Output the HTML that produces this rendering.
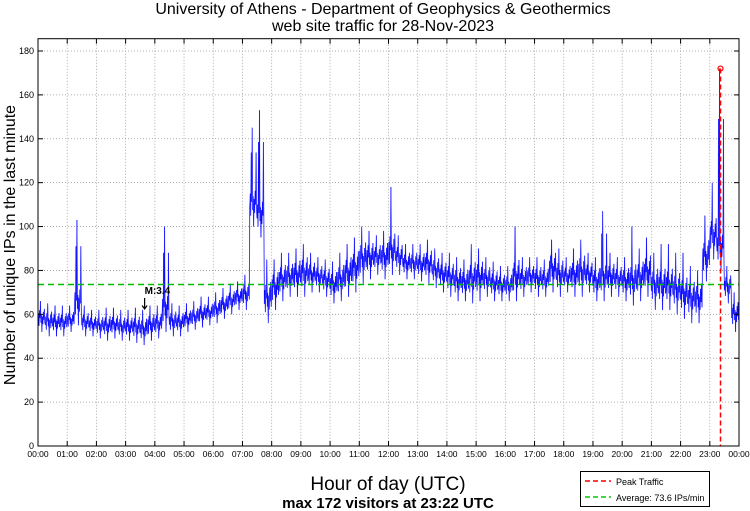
<!DOCTYPE html>
<html><head><meta charset="utf-8"><style>
body{margin:0;background:#fff;font-family:"Liberation Sans",sans-serif}
svg{display:block}
</style></head><body>
<svg id="chart" width="750" height="511" xmlns="http://www.w3.org/2000/svg" font-family="Liberation Sans, sans-serif">
<text x="383" y="14" font-size="16" text-anchor="middle">University of Athens - Department of Geophysics &amp; Geothermics</text>
<text x="383" y="31" font-size="16" text-anchor="middle">web site traffic for 28-Nov-2023</text>
<g id="grid"></g>
<g id="series"></g>
<g id="axes"></g>
<text transform="translate(15,245) rotate(-90)" font-size="16" text-anchor="middle">Number of unique IPs in the last minute</text>
<text x="388" y="490" font-size="19" text-anchor="middle">Hour of day (UTC)</text>
<text x="388" y="508" font-size="15" font-weight="bold" text-anchor="middle">max 172 visitors at 23:22 UTC</text>
<g>
<rect x="580.5" y="471.5" width="129" height="35" fill="#fff" stroke="#000" stroke-width="1"/>
<line x1="585" y1="481" x2="611" y2="481" stroke="#f00" stroke-width="1.5" stroke-dasharray="5,3"/>
<text x="616" y="485" font-size="9">Peak Traffic</text>
<line x1="585" y1="497" x2="611" y2="497" stroke="#0c0" stroke-width="1.5" stroke-dasharray="5,3"/>
<text x="616" y="501" font-size="9">Average: 73.6 IPs/min</text>
</g>
</svg>
<script>
const binLo = [52,50,50,50, 52,55,50,50, 49,48,49,48, 48,47,46,48, 49,52,50,50, 52,53,54,55, 56,58,60,62, 62,100,95,56, 62,66,68,68, 68,70,70,68, 65,66,68,70, 74,76,78,76, 78,78,76,76, 75,74,72,70, 68,66,66,65, 66,68,66,66, 66,66,68,70, 68,68,70,68, 70,68,68,70, 66,66,68,68, 66,64,66,68, 62,62,62,60, 58,56,56,75, 85,80,65,52];
const binHi = [66,65,64,64, 64,103,64,62, 62,63,63,62, 62,63,62,64, 64,100,65,64, 65,66,68,68, 70,72,74,75, 78,145,153,85, 85,88,88,90, 92,88,86,85, 84,88,92,95, 100,98,96,98, 118,96,92,92, 92,94,90,88, 88,86,85,92, 90,86,84,82, 82,100,86,86, 86,85,94,90, 86,90,94,88, 86,107,88,86, 86,100,90,95, 88,92,92,88, 88,82,80,105, 120,172,82,70];
const yTicks = [0,20,40,60,80,100,120,140,160,180];
const xTickLabels = ["00:00","01:00","02:00","03:00","04:00","05:00","06:00","07:00","08:00","09:00","10:00","11:00","12:00","13:00","14:00","15:00","16:00","17:00","18:00","19:00","20:00","21:00","22:00","23:00","00:00"];
const averageValue = 73.6;
const peakValue = 172;
const peakHour = 23 + 22/60;
const quakeHour = 3.65;
const quakeLabel = "M:3.4";

const NS = "http://www.w3.org/2000/svg";
const L = 38, R = 739, T = 38.7, B = 446;
const yMax = 185.6;
function xs(h){ return L + (R - L) * h / 24; }
function ys(v){ return B - (B - T) * v / yMax; }
function mk(tag, attrs, parent){ const e = document.createElementNS(NS, tag); for (const k in attrs) e.setAttribute(k, attrs[k]); parent.appendChild(e); return e; }
const grid = document.getElementById('grid'), axes = document.getElementById('axes'), series = document.getElementById('series');

yTicks.forEach(v => {
  const y = ys(v);
  if (v > 0) {
    const g = mk('line', {x1: L, x2: R, y1: y, y2: y, stroke: '#999', 'stroke-width': 0.8, 'stroke-dasharray': '1,2'}, grid);
    
    
  }
  mk('line', {x1: L, x2: L + 5, y1: y, y2: y, stroke: '#000'}, axes);
  mk('line', {x1: R, x2: R - 5, y1: y, y2: y, stroke: '#000'}, axes);
  const t = mk('text', {x: L - 4, y: y + 3, 'font-size': 9, 'text-anchor': 'end'}, axes);
  t.textContent = v;
  
  
});
xTickLabels.forEach((lab, i) => {
  const x = xs(i);
  if (i > 0 && i < 24) {
    const g = mk('line', {x1: x, x2: x, y1: T, y2: B, stroke: '#999', 'stroke-width': 0.8, 'stroke-dasharray': '1,2'}, grid);
    
    
  }
  mk('line', {x1: x, x2: x, y1: B, y2: B - 5, stroke: '#000'}, axes);
  mk('line', {x1: x, x2: x, y1: T, y2: T + 5, stroke: '#000'}, axes);
  const t = mk('text', {x: x, y: B + 11, 'font-size': 8.5, 'text-anchor': 'middle'}, axes);
  t.textContent = lab;
  
  
});
mk('rect', {x: L, y: T, width: R - L, height: B - T, fill: 'none', stroke: '#000', 'stroke-width': 1}, axes);

const pattern = [0.35,0.6,0.2,0.7,0.45,1.0,0.3,0.55,0.0,0.5,0.25,0.65,0.4,0.75,0.3];
let pts = [];
binLo.forEach((lo, i) => {
  const hi = binHi[i];
  const amp = Math.min(hi - lo, 25);
  pattern.forEach((f, j) => {
    const h = (i * 15 + j) / 60;
    let v = f === 1.0 ? hi : lo + amp * f;
    if (hi - lo > 40 && (j === 3 || j === 13)) v = lo + (hi - lo) * 0.75;
    pts.push(xs(h).toFixed(2) + ',' + ys(v).toFixed(2));
  });
});
const p1 = mk('polyline', {points: pts.join(' '), fill: 'none', stroke: '#8c8cff', 'stroke-width': 1.0}, series);


const p2 = mk('polyline', {points: pts.join(' '), fill: 'none', stroke: '#0000ff', 'stroke-width': 0.5}, series);



const avg = mk('line', {x1: L, x2: R, y1: ys(averageValue), y2: ys(averageValue), stroke: '#00bb00', 'stroke-width': 1.5, 'stroke-dasharray': '6,4'}, series);


const pk = mk('line', {x1: xs(peakHour), x2: xs(peakHour), y1: ys(peakValue), y2: B, stroke: '#ff0000', 'stroke-width': 1.5, 'stroke-dasharray': '5,3'}, series);


const pc = mk('circle', {cx: xs(peakHour), cy: ys(peakValue), r: 2.5, fill: 'none', stroke: '#ff0000', 'stroke-width': 1.2}, series);



const qx = xs(quakeHour);
const qa = mk('path', {d: `M${qx},298 L${qx},309 M${qx-2.5},305.5 L${qx},309 L${qx+2.5},305.5`, fill: 'none', stroke: '#000', 'stroke-width': 1.2}, series);


const ql = mk('text', {x: qx, y: 294, 'font-size': 10, 'font-weight': 'bold'}, series);
ql.textContent = quakeLabel;


</script>
</body></html>
